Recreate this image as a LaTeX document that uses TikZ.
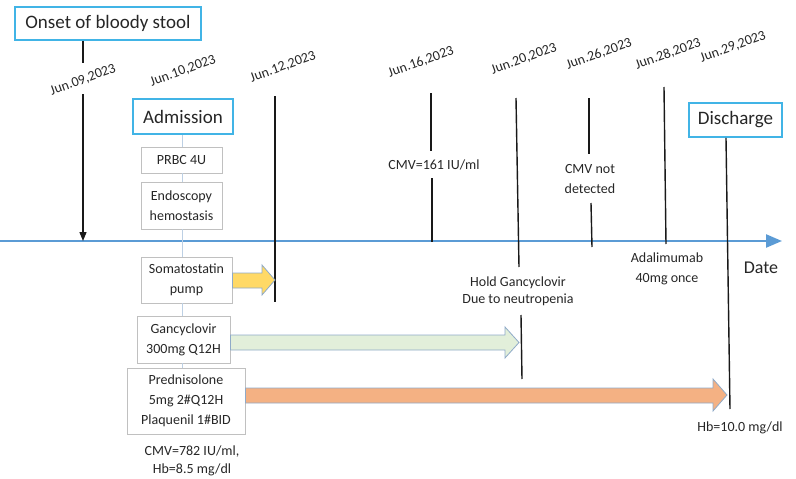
\documentclass[tikz,border=0pt]{standalone}
\usepackage{fontspec}
\setmainfont{Carlito}
\usetikzlibrary{arrows.meta}
\definecolor{txt}{HTML}{262626}
\definecolor{bluebox}{HTML}{41B4E6}
\definecolor{axiscol}{HTML}{5B9BD5}
\definecolor{graybox}{HTML}{C0C0C0}
\definecolor{conn}{HTML}{BDD0E4}
\definecolor{arrowedge}{HTML}{8FAAC8}
\definecolor{yel}{HTML}{FFD966}
\definecolor{grn}{HTML}{E2EFDA}
\definecolor{org}{HTML}{F4B183}
\begin{document}
\begin{tikzpicture}[x=1pt,y=-1pt,
  every node/.style={text=txt, font=\fontsize{14}{20}\selectfont, inner sep=0pt, align=center},
  bigbox/.style={draw=bluebox, line width=1.8pt, font=\fontsize{19}{22}\selectfont},
  smallbox/.style={draw=graybox, line width=0.8pt},
  datelbl/.style={rotate=20},
  tick/.style={line width=1.4pt, draw=black!90},
  linkline/.style={draw=conn, line width=1pt},
  blockarrow/.style={draw=arrowedge, line width=0.8pt}]
\useasboundingbox (0,0) rectangle (796,479);

% main axis
\coordinate (axs) at (0,241);
\coordinate (axe) at (782,241);
\draw[draw=axiscol, line width=2.4pt, -{Triangle[length=16pt,width=13pt]}] (axs) -- (axe);
\node[font=\fontsize{18}{20}\selectfont] (date) at (761,268) {Date};

% header boxes
\node[bigbox, minimum width=186pt, minimum height=33pt] (onset) at (108,23.5) {Onset of bloody stool};
\node[bigbox, minimum width=100pt, minimum height=35pt] (adm) at (183,116.5) {Admission};
\node[bigbox, minimum width=93pt, minimum height=34pt] (dis) at (735.5,120) {Discharge};

% date labels
\node[datelbl] (d09) at (83,80) {Jun.09,2023};
\node[datelbl] (d10) at (183,71) {Jun.10,2023};
\node[datelbl] (d12) at (283,67) {Jun.12,2023};
\node[datelbl] (d16) at (421,62) {Jun.16,2023};
\node[datelbl] (d20) at (524,59) {Jun.20,2023};
\node[datelbl] (d26) at (599,54) {Jun.26,2023};
\node[datelbl] (d28) at (668,54) {Jun.28,2023};
\node[datelbl] (d29) at (733,47) {Jun.29,2023};

% treatment boxes
\node[smallbox, minimum width=81pt, minimum height=26pt] (prbc) at (181.5,160) {PRBC 4U};
\node[smallbox, minimum width=81pt, minimum height=47pt] (endo) at (181.5,205.5) {Endoscopy\\hemostasis};
\node[smallbox, minimum width=91pt, minimum height=46pt] (soma) at (186.5,280) {Somatostatin\\pump};
\node[smallbox, minimum width=93pt, minimum height=47pt] (ganc) at (183.5,339.5) {Gancyclovir\\300mg Q12H};
\node[smallbox, minimum width=118pt, minimum height=66pt] (pred) at (186,401) {Prednisolone\\5mg 2\#Q12H\\Plaquenil 1\#BID};

% notes
\node (cmv161) at (434,165) {CMV=161 IU/ml};
\node (cmvnd) at (590,179) {CMV not\\detected};
\node[font=\fontsize{14}{17}\selectfont] (hold) at (518,291) {Hold Gancyclovir\\Due to neutropenia};
\node (ada) at (667,269) {Adalimumab\\40mg once};
\node (hb10) at (740,428) {Hb=10.0 mg/dl};
\node[font=\fontsize{14}{18}\selectfont] (cmv782) at (192,461) {CMV=782 IU/ml,\\Hb=8.5 mg/dl};

% link line through treatment boxes
\draw[linkline] (adm.south -| 182,0) -- (prbc.north -| 182,0);
\draw[linkline] (prbc.south -| 182,0) -- (endo.north -| 182,0);
\draw[linkline] (endo.south -| 182,0) -- (soma.north -| 182,0);
\draw[linkline] (soma.south -| 182,0) -- (ganc.north -| 182,0);
\draw[linkline] (ganc.south -| 182,0) -- (pred.north -| 182,0);

% tick lines
\coordinate (t09a) at (83,41);
\coordinate (t09b) at (83,63);
\coordinate (t09c) at (83,94);
\coordinate (t09d) at (83,241);
\draw[tick] (onset.south -| t09a) -- (t09b);
\draw[tick, -{Triangle[length=9pt,width=7pt]}] (t09c) -- (t09d);

\coordinate (t12a) at (275,96);
\coordinate (t12b) at (275,302);
\draw[tick] (t12a) -- (t12b);

\coordinate (t16a) at (431,93);
\coordinate (t16b) at (431,151);
\coordinate (t16c) at (432,178);
\coordinate (t16d) at (432,242);
\draw[tick] (t16a) -- (t16b);
\draw[tick] (t16c) -- (t16d);

\coordinate (t20a) at (516,98);
\coordinate (t20b) at (519,267);
\coordinate (t20c) at (521,315);
\coordinate (t20d) at (522,379);
\draw[tick] (t20a) -- (t20b);
\draw[tick] (t20c) -- (t20d);

\coordinate (t26a) at (589,98);
\coordinate (t26b) at (589,154);
\coordinate (t26c) at (591,203);
\coordinate (t26d) at (592,247);
\draw[tick] (t26a) -- (t26b);
\draw[tick] (t26c) -- (t26d);

\coordinate (t28a) at (664,87);
\coordinate (t28b) at (666,244);
\draw[tick] (t28a) -- (t28b);

\coordinate (t29b) at (730,409);
\draw[tick] (dis.south -| 726,0) -- (t29b);

% block arrows
\draw[blockarrow, fill=yel] (soma.east |- 0,273) -- (262,273) -- (262,265) -- (275,280) -- (262,295) -- (262,288) -- (soma.east |- 0,288) -- cycle;
\draw[blockarrow, fill=grn] (ganc.east |- 0,335) -- (505,335) -- (505,327) -- (519,342.5) -- (505,358) -- (505,350) -- (ganc.east |- 0,350) -- cycle;
\draw[blockarrow, fill=org] (pred.east |- 0,388) -- (713,388) -- (713,379) -- (727,395) -- (713,411) -- (713,403) -- (pred.east |- 0,403) -- cycle;
\end{tikzpicture}
\end{document}
